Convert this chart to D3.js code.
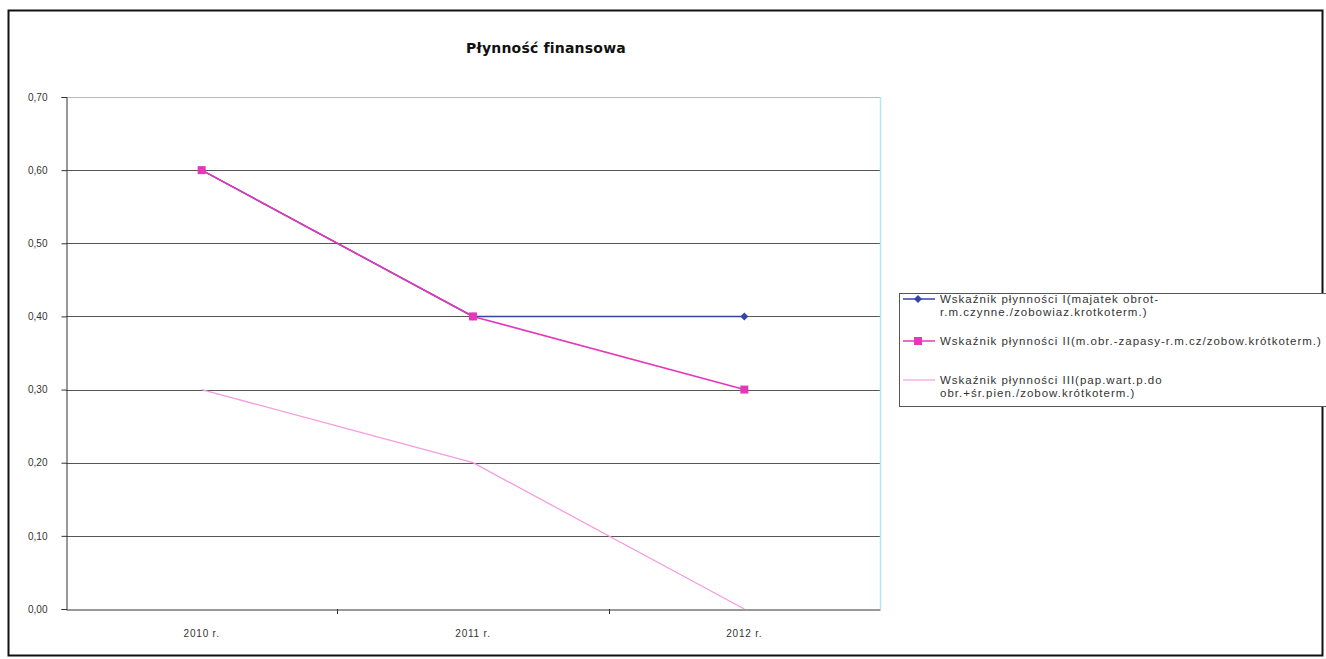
<!DOCTYPE html>
<html>
<head>
<meta charset="utf-8">
<script src="https://cdn.jsdelivr.net/npm/d3@7"></script>
<style>
  html, body { margin: 0; padding: 0; background: #fff; }
  svg { display: block; }
</style>
</head>
<body>
<svg id="chart" width="1326" height="659"></svg>
<script>
// Lata na osi X
const categories = ["2010 r.", "2011 r.", "2012 r."];

// Wartości wskaźników płynności
const seriesI   = [0.60, 0.40, 0.40];
const seriesII  = [0.60, 0.40, 0.30];
const seriesIII = [0.30, 0.20, 0.00];

const yTicks = [0, 0.1, 0.2, 0.3, 0.4, 0.5, 0.6, 0.7];

const legendLabels = [
  ["Wskaźnik płynności I(majatek obrot-", "r.m.czynne./zobowiaz.krotkoterm.)"],
  ["Wskaźnik płynności II(m.obr.-zapasy-r.m.cz/zobow.krótkoterm.)"],
  ["Wskaźnik płynności III(pap.wart.p.do", "obr.+śr.pien./zobow.krótkoterm.)"]
];

const title = "Płynność finansowa";

const svg = d3.select("#chart");
const font = "Liberation Sans, Arial, sans-serif";

// Ramka wykresu
svg.append("rect")
  .attr("x", 8.5).attr("y", 10.5).attr("width", 1314).attr("height", 645)
  .attr("fill", "#fff").attr("stroke", "#111").attr("stroke-width", 2);

const plot = { left: 66, right: 880, top: 97, bottom: 609 };

const x = d3.scaleBand().domain(categories).range([plot.left, plot.right]).padding(0);
const y = d3.scaleLinear().domain([0, 0.7]).range([plot.bottom, plot.top]);
const cx = d => x(d) + x.bandwidth() / 2;

// Linie siatki
svg.append("g").selectAll("line").data(yTicks.filter(v => v > 0)).join("line")
  .attr("x1", plot.left).attr("x2", plot.right)
  .attr("y1", d => Math.round(y(d)) + 0.5).attr("y2", d => Math.round(y(d)) + 0.5)
  .attr("stroke", d => d === 0.7 ? "#b8b8b8" : "#555")
  .attr("stroke-width", 1);

// Prawa krawędź obszaru wykresu
svg.append("line")
  .attr("x1", plot.right + 0.5).attr("x2", plot.right + 0.5)
  .attr("y1", plot.top).attr("y2", plot.bottom)
  .attr("stroke", "#aee8f4").attr("stroke-width", 1.5);

// Oś Y
const fmt = v => d3.format(".2f")(v).replace(".", ",");
const yAxis = svg.append("g")
  .attr("transform", `translate(${plot.left + 0.5},0)`)
  .call(d3.axisLeft(y).tickValues(yTicks).tickFormat(fmt).tickSize(5).tickPadding(14));
yAxis.select(".domain").attr("stroke", "#333");
yAxis.selectAll(".tick line").attr("stroke", "#333");
yAxis.selectAll("text").attr("font-family", font).attr("font-size", 10).attr("fill", "#333");

// Oś X
const xAxis = svg.append("g")
  .attr("transform", `translate(0,${Math.round(y(0)) + 0.5})`)
  .call(d3.axisBottom(x).tickSize(0).tickPadding(20));
xAxis.select(".domain").attr("stroke", "#333");
xAxis.selectAll("text").attr("font-family", font).attr("font-size", 10)
  .attr("letter-spacing", 0.8).attr("fill", "#333");
// Znaczniki między kategoriami
svg.append("g").selectAll("line").data(categories.slice(1)).join("line")
  .attr("x1", d => Math.round(x(d)) + 0.5).attr("x2", d => Math.round(x(d)) + 0.5)
  .attr("y1", Math.round(y(0))).attr("y2", Math.round(y(0)) + 5)
  .attr("stroke", "#333");

// Linie serii
const line = d3.line().x((d, i) => cx(categories[i])).y(d => y(d));

const colI = "#3346a8", colII = "#e636b9", colIII = "#f79be0";

svg.append("path").datum(seriesIII).attr("d", line)
  .attr("fill", "none").attr("stroke", colIII).attr("stroke-width", 1.3);

svg.append("path").datum(seriesI).attr("d", line)
  .attr("fill", "none").attr("stroke", colI).attr("stroke-width", 1.5);
svg.append("g").selectAll("path").data(seriesI).join("path")
  .attr("transform", (d, i) => `translate(${cx(categories[i])},${y(d)})`)
  .attr("d", d3.symbol(d3.symbolDiamond2, 40))
  .attr("fill", colI);

svg.append("path").datum(seriesII).attr("d", line)
  .attr("fill", "none").attr("stroke", colII).attr("stroke-width", 1.6);
svg.append("g").selectAll("rect").data(seriesII).join("rect")
  .attr("x", (d, i) => cx(categories[i]) - 4).attr("y", d => y(d) - 4)
  .attr("width", 8).attr("height", 8).attr("fill", colII);

// Tytuł
svg.append("text")
  .attr("x", 546).attr("y", 53).attr("text-anchor", "middle")
  .attr("font-family", "DejaVu Sans, sans-serif").attr("font-weight", "bold")
  .attr("font-size", 14).attr("letter-spacing", 0.2).attr("fill", "#111")
  .text(title);

// Legenda
const legend = svg.append("g");
legend.append("rect")
  .attr("x", 899.5).attr("y", 293.5).attr("width", 440).attr("height", 113)
  .attr("fill", "#fff").attr("stroke", "#555").attr("stroke-width", 1);

const legendY = [299, 341, 380];
const legendColors = [colI, colII, colIII];
legendLabels.forEach((lines, i) => {
  const g = legend.append("g").attr("transform", `translate(0,${legendY[i]})`);
  g.append("line").attr("x1", 903).attr("x2", 935).attr("y1", 0).attr("y2", 0)
    .attr("stroke", legendColors[i]).attr("stroke-width", i === 2 ? 1.2 : 1.5);
  if (i === 0) {
    g.append("path").attr("transform", "translate(918,0)")
      .attr("d", d3.symbol(d3.symbolDiamond2, 40)).attr("fill", colI);
  } else if (i === 1) {
    g.append("rect").attr("x", 914).attr("y", -4).attr("width", 8).attr("height", 8).attr("fill", colII);
  }
  const t = g.append("text").attr("x", 940).attr("y", 4)
    .attr("font-family", font).attr("font-size", 11.5).attr("letter-spacing", 1)
    .attr("fill", "#333");
  lines.forEach((s, j) => {
    t.append("tspan").attr("x", 940).attr("dy", j === 0 ? 0 : 13).text(s);
  });
});
</script>
</body>
</html>
